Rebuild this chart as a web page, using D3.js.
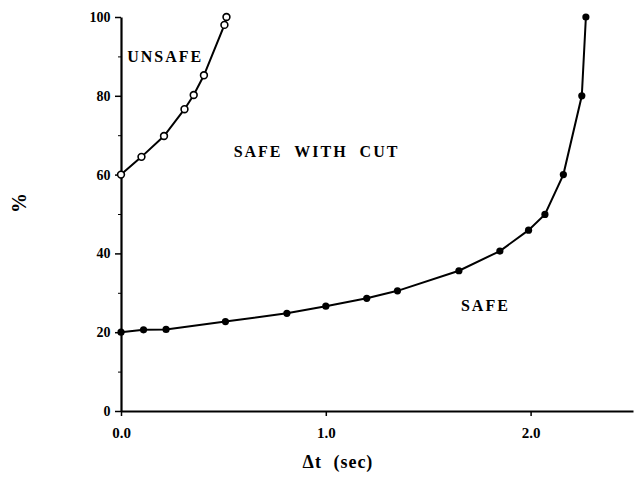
<!DOCTYPE html>
<html>
<head>
<meta charset="utf-8">
<script src="https://cdn.jsdelivr.net/npm/d3@7"></script>
<style>
	body { margin: 0; background: #fff; }
	svg text { font-family: "Liberation Serif", "DejaVu Serif", serif; fill: #000; }
</style>
</head>
<body>
<svg id="canvas" width="639" height="488"></svg>
<script>
// values
var unsafeX = [0.0, 0.10, 0.21, 0.31, 0.355, 0.405, 0.505, 0.515];
var unsafeY = [60, 64.5, 69.8, 76.6, 80.2, 85.2, 98, 100];

var safeX = [0.0, 0.11, 0.22, 0.51, 0.81, 1.0, 1.2, 1.35, 1.65, 1.85, 1.99, 2.07, 2.16, 2.25, 2.27];
var safeY = [20, 20.6, 20.7, 22.7, 24.8, 26.6, 28.6, 30.5, 35.6, 40.6, 45.9, 49.9, 60, 80, 100];

var xTicks = [0, 1, 2];
var yTicks = [0, 20, 40, 60, 80, 100];
var yMinor = [10, 30, 50, 70, 90];

var regions = [
	{text: "UNSAFE", x: 0.03, y: 88.6},
	{text: "SAFE WITH CUT", x: 0.55, y: 64.5},
	{text: "SAFE", x: 1.66, y: 25.3}
];

function zip(xs, ys){
	var pts = [];
	for (var i = 0; i < xs.length; i++) pts.push([xs[i], ys[i]]);
	return pts;
}

function draw(){
	var svg = d3.select("#canvas");
	var x = d3.scaleLinear().domain([0, 2.5]).range([121, 633]);
	var y = d3.scaleLinear().domain([0, 100]).range([411, 17]);

	// x axis
	var xAxis = svg.append("g")
		.attr("transform", "translate(0," + y(0) + ")")
		.call(d3.axisBottom(x).tickValues(xTicks).tickFormat(d3.format(".1f")).tickSize(5).tickSizeOuter(0));
	xAxis.select(".domain").attr("stroke-width", 2.2);
	xAxis.selectAll(".tick line").attr("stroke-width", 1.5);
	xAxis.selectAll("text").attr("font-size", 15).attr("font-weight", "bold").attr("dy", "1.25em");

	// y axis
	var yAxis = svg.append("g")
		.attr("transform", "translate(" + x(0) + ",0)")
		.call(d3.axisLeft(y).tickValues(yTicks).tickSize(6).tickSizeOuter(0));
	yAxis.select(".domain").attr("stroke-width", 2.2);
	yAxis.selectAll(".tick line").attr("stroke-width", 1.5);
	yAxis.selectAll("text").attr("font-size", 14).attr("font-weight", "bold").attr("dx", "-0.1em");

	svg.append("g")
		.attr("transform", "translate(" + x(0) + ",0)")
		.call(d3.axisLeft(y).tickValues(yMinor).tickSize(3).tickFormat(""))
		.call(function(g){ g.select(".domain").remove(); });

	var line = d3.line()
		.x(function(d){ return x(d[0]); })
		.y(function(d){ return y(d[1]); });

	var unsafe = zip(unsafeX, unsafeY);
	var safe = zip(safeX, safeY);

	svg.append("path")
		.datum(safe)
		.attr("d", line)
		.attr("style", "stroke-width: 2; fill: none; stroke: black;");
	svg.append("path")
		.datum(unsafe)
		.attr("d", line)
		.attr("style", "stroke-width: 2; fill: none; stroke: black;");

	svg.selectAll("circle.safe")
		.data(safe)
		.enter()
		.append("circle")
		.attr("class", "safe")
		.attr("cx", function(d){ return x(d[0]); })
		.attr("cy", function(d){ return y(d[1]); })
		.attr("r", 3.6)
		.attr("fill", "black");

	svg.selectAll("circle.unsafe")
		.data(unsafe)
		.enter()
		.append("circle")
		.attr("class", "unsafe")
		.attr("cx", function(d){ return x(d[0]); })
		.attr("cy", function(d){ return y(d[1]); })
		.attr("r", 3.4)
		.attr("fill", "white")
		.attr("stroke", "black")
		.attr("stroke-width", 1.6);

	svg.selectAll("text.region")
		.data(regions)
		.enter()
		.append("text")
		.attr("class", "region")
		.attr("x", function(d){ return x(d.x); })
		.attr("y", function(d){ return y(d.y); })
		.attr("font-size", 16)
		.attr("font-weight", "bold")
		.attr("letter-spacing", 2)
		.attr("word-spacing", 6)
		.text(function(d){ return d.text; });

	svg.append("text")
		.attr("x", 338)
		.attr("y", 468)
		.attr("text-anchor", "middle")
		.attr("font-size", 18)
		.attr("font-weight", "bold")
		.attr("letter-spacing", 1)
		.attr("word-spacing", 6)
		.text("\u0394t (sec)");

	svg.append("text")
		.attr("transform", "translate(26,203) rotate(-90)")
		.attr("text-anchor", "middle")
		.attr("font-size", 20)
		.attr("font-weight", "bold")
		.text("%");
}

draw();
</script>
</body>
</html>
